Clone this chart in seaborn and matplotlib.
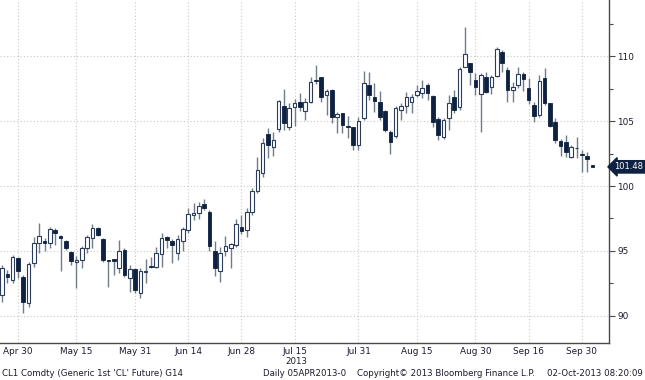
import numpy as np
import matplotlib
matplotlib.use("Agg")
import matplotlib.pyplot as plt
import matplotlib.transforms as mtransforms
import seaborn as sns

# trading-day index relative to Apr 30 2013
day_index = list(range(-3, 109))
opens = [91.58, 93.2, 92.74, 94.41, 93.0, 90.99, 94.03, 95.57, 95.78, 95.57,
         96.6, 96.13, 95.78, 94.93, 94.1, 94.29, 95.19, 95.96, 96.73, 95.88,
         94.22, 94.36, 93.64, 95.06, 92.87, 93.56, 91.71, 93.38, 93.82, 93.72,
         94.75, 96.1, 95.75, 94.85, 95.78, 96.6, 97.8, 97.94, 98.6, 98.02,
         95.0, 93.4, 95.0, 95.19, 95.47, 96.8, 96.6, 98.02, 99.64, 101.03,
         104.02, 103.02, 104.4, 106.15, 104.58, 106.07, 106.51, 105.82, 106.51, 108.2,
         108.39, 107.03, 107.4, 105.35, 105.66, 104.62, 104.53, 103.17, 105.22, 107.8,
         106.9, 106.51, 105.8, 104.2, 103.84, 105.87, 106.18, 106.51, 107.03, 107.2,
         107.8, 106.95, 105.15, 103.81, 105.22, 106.9, 106.13, 109.22, 109.52, 108.19,
         107.1, 108.44, 107.67, 108.5, 110.37, 108.96, 107.38, 107.8, 108.68, 107.54,
         106.26, 105.48, 108.31, 106.44, 104.95, 103.5, 103.4, 102.27, 102.9, 102.45,
         102.3, 101.6]
highs = [93.9, 93.5, 94.67, 94.54, 93.13, 94.16, 96.03, 97.17, 95.96, 96.86,
         96.73, 96.2, 95.8, 95.0, 94.6, 95.37, 96.22, 97.1, 96.86, 95.96,
         94.3, 94.36, 95.83, 95.19, 93.9, 93.64, 93.64, 94.34, 94.49, 95.3,
         96.34, 96.14, 95.88, 96.22, 96.86, 98.28, 98.7, 98.79, 98.97, 98.15,
         95.77, 95.3, 96.14, 95.6, 97.45, 97.75, 98.3, 99.85, 102.21, 103.68,
         104.5, 104.2, 106.64, 107.47, 106.4, 106.7, 107.2, 106.77, 108.44, 109.34,
         108.4, 107.5, 107.47, 105.74, 105.66, 105.4, 104.58, 105.35, 108.9, 108.83,
         107.98, 107.3, 105.85, 104.32, 106.2, 106.38, 107.28, 107.1, 107.8, 108.19,
         107.98, 107.03, 105.35, 105.22, 107.03, 107.41, 109.2, 112.3, 109.52, 108.7,
         108.7, 108.83, 108.57, 110.76, 110.5, 109.2, 108.0, 109.2, 108.77, 108.3,
         106.51, 108.57, 109.09, 106.44, 105.22, 103.65, 103.94, 103.17, 103.8, 102.75,
         102.6, 101.62]
lows = [91.07, 92.5, 92.48, 92.87, 90.17, 90.68, 93.72, 94.85, 94.98, 95.19,
        95.44, 93.46, 95.06, 93.9, 92.1, 93.64, 94.85, 95.19, 96.14, 94.16,
        92.2, 93.13, 93.26, 93.0, 91.84, 91.71, 91.33, 92.48, 93.64, 93.7,
        93.72, 95.19, 94.08, 94.29, 95.0, 96.4, 97.4, 97.43, 98.15, 95.0,
        93.06, 92.61, 94.58, 93.64, 95.3, 96.3, 96.1, 97.76, 99.48, 100.72,
        102.2, 102.3, 104.2, 104.3, 104.3, 104.6, 105.82, 105.1, 106.38, 107.9,
        106.5, 105.48, 104.84, 104.07, 104.07, 103.68, 102.78, 102.78, 105.1, 106.64,
        105.74, 105.1, 104.2, 102.5, 103.68, 105.1, 105.61, 105.66, 106.9, 106.77,
        106.64, 104.58, 103.55, 103.6, 104.32, 105.61, 105.87, 109.2, 107.8, 107.03,
        104.2, 107.15, 107.1, 108.44, 108.83, 106.5, 106.5, 107.6, 107.35, 106.3,
        104.97, 105.35, 106.26, 104.58, 103.3, 102.35, 102.27, 102.14, 102.2, 101.1,
        101.1, 101.45]
closes = [93.64, 93.0, 94.49, 93.46, 91.07, 93.98, 95.62, 96.14, 95.62, 96.65,
          96.4, 95.95, 95.19, 94.23, 94.3, 95.19, 96.03, 96.73, 96.22, 94.29,
          94.18, 94.18, 95.0, 93.13, 93.56, 91.97, 93.46, 93.42, 93.72, 94.8,
          95.96, 95.83, 95.44, 95.88, 96.65, 97.84, 97.9, 98.45, 98.27, 95.37,
          93.64, 94.8, 95.37, 95.52, 97.07, 96.55, 98.02, 99.64, 101.24, 103.3,
          103.13, 103.52, 106.55, 104.89, 106.0, 106.4, 106.08, 106.51, 108.06, 108.1,
          106.9, 107.3, 105.35, 105.56, 104.71, 104.58, 103.17, 105.05, 107.98, 107.03,
          106.59, 105.35, 104.32, 103.42, 106.0, 106.18, 106.85, 106.85, 107.36, 107.54,
          107.15, 104.97, 103.94, 105.1, 106.44, 105.87, 109.0, 110.2, 108.83, 107.67,
          108.57, 107.28, 108.39, 110.55, 109.52, 107.41, 107.62, 108.68, 108.24, 106.62,
          105.4, 108.13, 106.38, 104.66, 103.57, 103.09, 102.65, 103.0, 102.95, 102.4,
          102.06, 101.48]

tick_days = [0, 11, 22, 32, 42, 52, 64, 75, 86, 96, 106]
tick_labels = ["Apr 30", "May 15", "May 31", "Jun 14", "Jun 28", "Jul 15",
               "Jul 31", "Aug 15", "Aug 30", "Sep 16", "Sep 30"]
minor_days = [6, 17, 27, 37, 47, 58, 70, 81, 91, 101]
y_major = [90, 95, 100, 105, 110]
y_minor = [92.5, 97.5, 102.5, 107.5, 112.5]
last_price = 101.48
year_label = "2013"
footer_left = "CL1 Comdty (Generic 1st 'CL' Future) G14"
footer_mid = "Daily 05APR2013-0"
footer_copy = "Copyright\u00a9 2013 Bloomberg Finance L.P."
footer_date = "02-Oct-2013 08:20:09"

sns.set_theme(style="white")
plt.rcParams['font.family'] = ['DejaVu Sans']

navy = "#0e2140"
wick_c = "#6f7c8c"
hollow_edge = "#2a3c5a"
axis_c = "#4a4a4a"
grid_c = "#c8c8c8"
text_c = "#1a1a2e"

fig = plt.figure(figsize=(6.45, 3.8), dpi=100)
fig.patch.set_facecolor("white")
ax = fig.add_axes([0, 1 - 343 / 380, 609 / 645, 343 / 380])
ax.set_facecolor("white")

x = np.array(day_index, dtype=float)
o = np.array(opens); h = np.array(highs); l = np.array(lows); c = np.array(closes)

ax.vlines(x, l, h, color=wick_c, lw=1.0, zorder=2)
up = c >= o
dn = ~up
bw = 0.68
hu = np.maximum(c[up] - o[up], 0.07)
ax.bar(x[up], hu, bottom=o[up], width=bw, facecolor="white",
       edgecolor=hollow_edge, linewidth=0.8, zorder=3)
hd = np.maximum(o[dn] - c[dn], 0.07)
ax.bar(x[dn], hd, bottom=c[dn], width=bw, facecolor=navy,
       edgecolor=navy, linewidth=0.6, zorder=3)

ax.set_xlim(-3.38, 111.1)
ax.set_ylim(87.88, 114.36)

ax.set_xticks(tick_days)
ax.set_xticklabels(tick_labels)
ax.set_xticks(minor_days, minor=True)
ax.yaxis.tick_right()
ax.set_yticks(y_major)
ax.set_yticklabels([str(v) for v in y_major])
ax.set_yticks(y_minor, minor=True)

ax.grid(True, which="major", axis="both", linestyle=(0, (1, 2)),
        color=grid_c, linewidth=0.8, zorder=0)
ax.set_axisbelow(True)

for side in ["top", "left"]:
    ax.spines[side].set_visible(False)
for side in ["bottom", "right"]:
    ax.spines[side].set_visible(True)
    ax.spines[side].set_color(axis_c)
    ax.spines[side].set_linewidth(1.0)

ax.tick_params(axis="x", which="major", direction="inout", length=5, width=0.8,
               color=axis_c, labelsize=6.4, labelcolor=text_c, pad=0.5)
ax.tick_params(axis="x", which="minor", direction="inout", length=4, width=0.8,
               color=axis_c)
ax.tick_params(axis="y", which="major", direction="out", length=4, width=0.8,
               color=axis_c, labelsize=6.4, labelcolor=text_c, pad=2,
               right=True, left=False)
ax.tick_params(axis="y", which="minor", direction="out", length=3, width=0.8,
               color=axis_c, right=True, left=False)

trans = mtransforms.blended_transform_factory(ax.transAxes, ax.transData)
ax.text(1.009, last_price, "%.2f" % last_price, transform=trans, ha="left",
        va="center", color="white", fontsize=6.0, zorder=5, clip_on=False,
        bbox=dict(boxstyle="larrow,pad=0.2", fc=navy, ec=navy))

fig.text(296 / 645, 1 - 362 / 380, year_label, ha="center", va="center",
         fontsize=6.2, color=text_c)
fy = 1 - 373.5 / 380
fig.text(2 / 645, fy, footer_left, ha="left", va="center", fontsize=6.2, color=text_c)
fig.text(263 / 645, fy, footer_mid, ha="left", va="center", fontsize=6.2, color=text_c)
fig.text(357 / 645, fy, footer_copy, ha="left", va="center", fontsize=6.2, color=text_c)
fig.text(643 / 645, fy, footer_date, ha="right", va="center", fontsize=6.2, color=text_c)

fig.savefig("out.png", dpi=100, facecolor="white")
